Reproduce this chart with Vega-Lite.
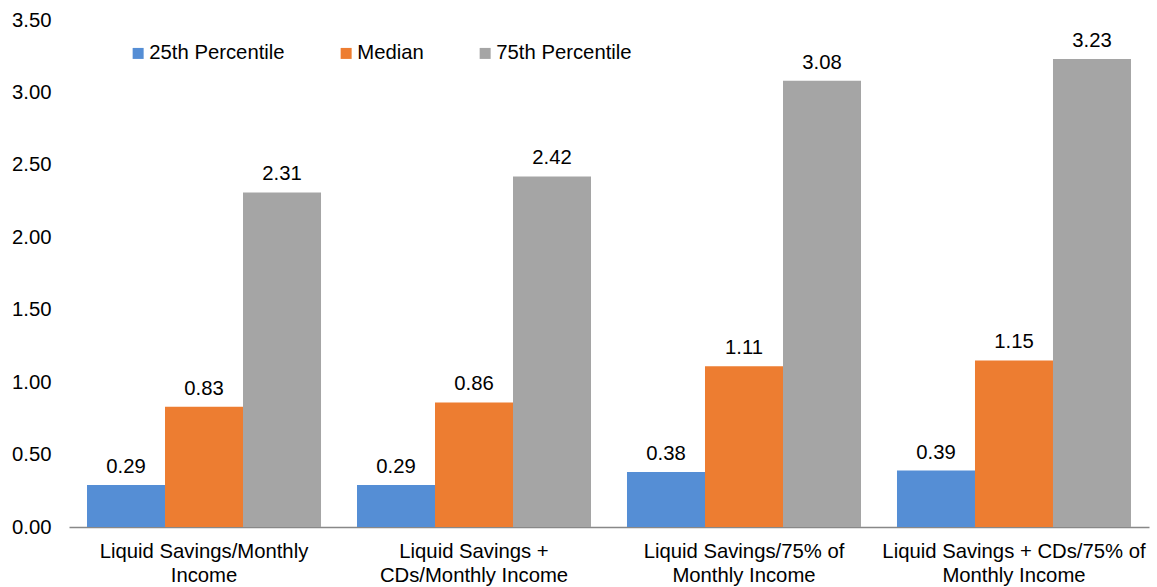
{
  "$schema": "https://vega.github.io/schema/vega-lite/v6.json",
  "autosize": "none",
  "width": 1080,
  "height": 507,
  "padding": {"left": 69, "top": 20, "right": 8, "bottom": 60},
  "background": "white",
  "config": {
    "view": {"stroke": null},
    "font": "Liberation Sans"
  },
  "data": {
    "values": [
      {"category": "Liquid Savings/Monthly Income", "series": "25th Percentile", "value": 0.29},
      {"category": "Liquid Savings/Monthly Income", "series": "Median", "value": 0.83},
      {"category": "Liquid Savings/Monthly Income", "series": "75th Percentile", "value": 2.31},
      {"category": "Liquid Savings + CDs/Monthly Income", "series": "25th Percentile", "value": 0.29},
      {"category": "Liquid Savings + CDs/Monthly Income", "series": "Median", "value": 0.86},
      {"category": "Liquid Savings + CDs/Monthly Income", "series": "75th Percentile", "value": 2.42},
      {"category": "Liquid Savings/75% of Monthly Income", "series": "25th Percentile", "value": 0.38},
      {"category": "Liquid Savings/75% of Monthly Income", "series": "Median", "value": 1.11},
      {"category": "Liquid Savings/75% of Monthly Income", "series": "75th Percentile", "value": 3.08},
      {"category": "Liquid Savings + CDs/75% of Monthly Income", "series": "25th Percentile", "value": 0.39},
      {"category": "Liquid Savings + CDs/75% of Monthly Income", "series": "Median", "value": 1.15},
      {"category": "Liquid Savings + CDs/75% of Monthly Income", "series": "75th Percentile", "value": 3.23}
    ]
  },
  "encoding": {
    "x": {
      "field": "category",
      "type": "nominal",
      "sort": null,
      "scale": {"paddingInner": 0.1333, "paddingOuter": 0.0667},
      "axis": {
        "title": null,
        "labelAngle": 0,
        "labelFontSize": 20.3,
        "labelColor": "#000000",
        "labelLineHeight": 24,
        "labelPadding": 14,
        "labelBaseline": "top",
        "labelLimit": 400,
        "ticks": false,
        "domainColor": "#888888",
        "domainWidth": 1.5,
        "labelExpr": "datum.label == 'Liquid Savings/Monthly Income' ? ['Liquid Savings/Monthly', 'Income'] : datum.label == 'Liquid Savings + CDs/Monthly Income' ? ['Liquid Savings +', 'CDs/Monthly Income'] : datum.label == 'Liquid Savings/75% of Monthly Income' ? ['Liquid Savings/75% of', 'Monthly Income'] : ['Liquid Savings + CDs/75% of', 'Monthly Income']"
      }
    },
    "xOffset": {"field": "series", "type": "nominal", "sort": ["25th Percentile", "Median", "75th Percentile"], "scale": {"paddingInner": 0, "paddingOuter": 0}},
    "y": {
      "field": "value",
      "type": "quantitative",
      "scale": {"domain": [0, 3.5]},
      "axis": {
        "title": null,
        "values": [0, 0.5, 1, 1.5, 2, 2.5, 3, 3.5],
        "format": ".2f",
        "grid": false,
        "domain": false,
        "ticks": false,
        "labelFontSize": 20.3,
        "labelColor": "#000000",
        "labelPadding": 18
      }
    }
  },
  "layer": [
    {
      "mark": {"type": "bar"},
      "encoding": {
        "color": {
          "field": "series",
          "type": "nominal",
          "sort": ["25th Percentile", "Median", "75th Percentile"],
          "scale": {"domain": ["25th Percentile", "Median", "75th Percentile"], "range": ["#558ED5", "#ED7D31", "#A5A5A5"]},
          "legend": {
            "title": null,
            "orient": "none",
            "direction": "horizontal",
            "legendX": 59,
            "legendY": 23,
            "symbolType": "square",
            "symbolSize": 121,
            "symbolStrokeWidth": 0,
            "labelFontSize": 20.3,
            "labelColor": "#000000",
            "labelOffset": 1,
            "columnPadding": 51,
            "labelLimit": 300
          }
        }
      }
    },
    {
      "mark": {"type": "text", "baseline": "bottom", "dy": -8, "fontSize": 20.3, "color": "#000000"},
      "encoding": {
        "text": {"field": "value", "type": "quantitative", "format": ".2f"}
      }
    }
  ]
}
